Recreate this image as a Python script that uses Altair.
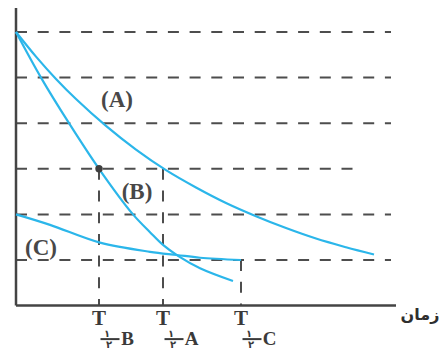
import altair as alt
import pandas as pd

# ---- data (t in time units, N in units of the grid) ----
a_t = [0, 20, 40, 60, 90, 120, 150, 180, 210, 240, 270, 300, 330, 358]
a_n = [6, 5.46, 4.97, 4.53, 3.94, 3.42, 2.97, 2.59, 2.25, 1.96, 1.70, 1.47, 1.28, 1.12]
b_t = [0, 25, 53, 83, 117, 134, 147, 162, 184, 217]
b_n = [6, 5, 4, 3, 2, 1.61, 1.33, 1.09, 0.82, 0.54]
c_t = [0, 34, 84, 134, 161, 184, 225]
c_n = [2, 1.77, 1.38, 1.18, 1.11, 1.05, 1.0]

grid_levels = [6, 5, 4, 3, 2, 1]
grid_ends = [375, 375, 375, 338, 375, 375]

half_names = ["B", "A", "C"]
half_t = [83, 147, 225]
half_n = [3, 3, 1]

curve_labels = ["(A)", "(B)", "(C)"]
curve_label_t = [101, 121, 25]
curve_label_n = [4.51, 2.49, 1.26]

axis_x_end = 380
axis_title = "زمان"

# ---- tables ----
curves = pd.concat([
    pd.DataFrame({"t": a_t, "n": a_n, "s": "A"}),
    pd.DataFrame({"t": b_t, "n": b_n, "s": "B"}),
    pd.DataFrame({"t": c_t, "n": c_n, "s": "C"}),
])
grid = pd.DataFrame({"n": grid_levels, "t0": 0, "t1": grid_ends})
halves = pd.DataFrame({"name": half_names, "t": half_t, "n": half_n, "zero": 0})
clabels = pd.DataFrame({"label": curve_labels, "t": curve_label_t, "n": curve_label_n})

X = alt.Scale(domain=[-8, 424], nice=False, zero=False)
Y = alt.Scale(domain=[-1.0175, 6.5263], nice=False, zero=False)

DASH = [11, 10.7]
GRAY = "#4d4d4d"
BLUE = "#2bb6ea"

hl = alt.Chart(grid).mark_rule(color=GRAY, strokeWidth=2, strokeDash=DASH).encode(
    x=alt.X("t0:Q", scale=X, axis=None), x2="t1:Q",
    y=alt.Y("n:Q", scale=Y, axis=None))

vl = alt.Chart(halves).mark_rule(color=GRAY, strokeWidth=2, strokeDash=DASH).encode(
    x=alt.X("t:Q", scale=X, axis=None),
    y=alt.Y("n:Q", scale=Y, axis=None), y2="zero:Q")

axes_df = pd.DataFrame({"t0": [0, 0], "t1": [axis_x_end, 0],
                        "n0": [0, 0], "n1": [0, 6.5263]})
axes = alt.Chart(axes_df).mark_rule(color="#444444", strokeWidth=2.5).encode(
    x=alt.X("t0:Q", scale=X, axis=None), x2="t1:Q",
    y=alt.Y("n0:Q", scale=Y, axis=None), y2="n1:Q")

lines = alt.Chart(curves).mark_line(color=BLUE, strokeWidth=2.2, interpolate="catmull-rom").encode(
    x=alt.X("t:Q", scale=X, axis=None),
    y=alt.Y("n:Q", scale=Y, axis=None),
    detail="s:N")

dot = alt.Chart(halves[halves["name"] == "B"]).mark_circle(color="#3f3f3f", size=55, opacity=1).encode(
    x=alt.X("t:Q", scale=X, axis=None),
    y=alt.Y("n:Q", scale=Y, axis=None))

clab = alt.Chart(clabels).mark_text(font="Liberation Serif", fontWeight="bold", fontSize=23,
                                    color="#484848").encode(
    x=alt.X("t:Q", scale=X, axis=None),
    y=alt.Y("n:Q", scale=Y, axis=None),
    text="label:N")

base = alt.Chart(halves).encode(
    x=alt.X("t:Q", scale=X, axis=None),
    y=alt.Y("zero:Q", scale=Y, axis=None))

INK = "#3a3a3a"
t_txt = base.mark_text(font="Liberation Serif", fontWeight="bold", fontSize=21,
                       color=INK, dy=13, baseline="middle").encode(text=alt.value("T"))
one_txt = base.mark_text(font="DejaVu Sans", fontWeight="bold", fontSize=10,
                         color=INK, dx=8, dy=28, baseline="middle").encode(text=alt.value("۱"))
bar = base.mark_rule(color=INK, strokeWidth=2, xOffset=1.5, x2Offset=20.5, yOffset=33.5).encode(
    x2="t:Q")
two_txt = base.mark_text(font="DejaVu Sans", fontWeight="bold", fontSize=10,
                         color=INK, dx=10, dy=39.5, baseline="middle").encode(text=alt.value("۲"))
let_txt = base.mark_text(font="Liberation Serif", fontWeight="bold", fontSize=19,
                         color=INK, dx=28.5, dy=33.5, baseline="middle").encode(text="name:N")

title_df = pd.DataFrame({"t": [404], "n": [0], "label": [axis_title]})
xtitle = alt.Chart(title_df).mark_text(font="DejaVu Sans", fontWeight="bold", fontSize=16,
                                       color="#2e2e2e", dy=9, baseline="middle").encode(
    x=alt.X("t:Q", scale=X, axis=None),
    y=alt.Y("n:Q", scale=Y, axis=None),
    text="label:N")

chart = alt.layer(hl, vl, axes, lines, dot, clab, t_txt, one_txt, bar, two_txt, let_txt, xtitle).properties(
    width=432, height=344, padding=0, autosize="none", background="white"
).configure_view(stroke=None)

chart.save("out.html", embed_options={"renderer": "svg", "actions": False})
